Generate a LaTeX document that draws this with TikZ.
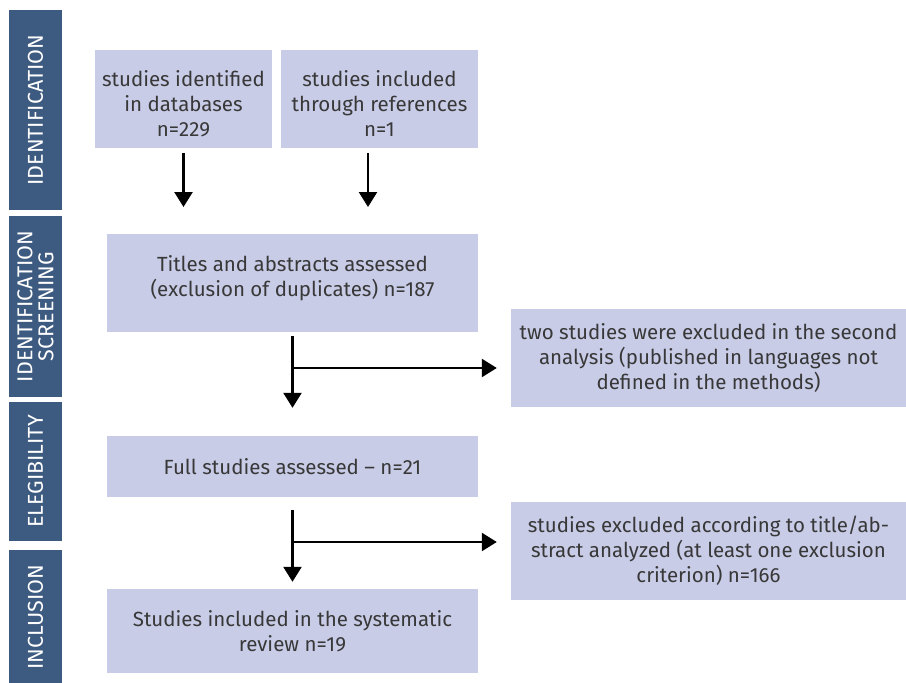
\documentclass[tikz,border=0pt]{standalone}
\usepackage{fontspec}
\setmainfont{Fira Sans}
\usepackage{tikz}
\usetikzlibrary{arrows.meta}
\usetikzlibrary{calc}

\definecolor{stagecol}{HTML}{3D5A80}
\definecolor{boxcol}{HTML}{C8CCE7}
\definecolor{txtcol}{HTML}{383838}

\tikzset{
	stagebar/.style={fill=stagecol, text=white, rotate=90, inner sep=0pt, minimum height=53pt, align=center, font=\fontsize{21.5}{21}\selectfont},
	stepbox/.style={fill=boxcol, text=txtcol, inner sep=0pt, align=center, font=\fontsize{20.5}{25}\selectfont},
	flow/.style={line width=2.4pt, -{Triangle[width=18pt,length=15pt]}}
}

\begin{document}
\begin{tikzpicture}[x=1pt, y=-1pt]
		\useasboundingbox (0,0) rectangle (906,683);
		% stages on the left
		\node (bar1) at (35.5,110)   [stagebar, minimum width=200pt] {IDENTIFICATION};
		\node (bar2) at (35.5,306.5) [stagebar, minimum width=181pt] {IDENTIFICATION\\SCREENING};
		\node (bar3) at (35.5,471.5) [stagebar, minimum width=139pt] {ELEGIBILITY};
		\node (bar4) at (35.5,617)   [stagebar, minimum width=134pt] {INCLUSION};
		% boxes
		\node (db)   at (183.5,99)  [stepbox, minimum width=177pt, minimum height=98pt, text height=75pt, text depth=0pt] {studies identified\\in databases\\n=229};
		\node (refs) at (379.5,99)  [stepbox, minimum width=197pt, minimum height=98pt, text height=75pt, text depth=0pt] {studies included\\through references\\n=1};
		\node (titles) at (292.5,283) [stepbox, minimum width=371pt, minimum height=98pt, text depth=14pt] {Titles and abstracts assessed\\(exclusion of duplicates) n=187};
		\node (lang) at (708.5,358) [stepbox, minimum width=395pt, minimum height=98pt] {two studies were excluded in the second\\analysis (published in languages not\\defined in the methods)};
		\node (full) at (292.5,466.5) [stepbox, minimum width=371pt, minimum height=61pt] {Full studies assessed -- n=21};
		\node (excl) at (708.5,551) [stepbox, minimum width=395pt, minimum height=98pt] {studies excluded according to title/ab-\\stract analyzed (at least one exclusion\\criterion) n=166};
		\node (incl) at (292.5,631) [stepbox, minimum width=371pt, minimum height=84pt] {Studies included in the systematic\\review n=19};
		% arrows
		\coordinate (tipdb) at (183.5,207);
		\coordinate (tiprefs) at (368,207);
		\coordinate (forkA) at (292.5,368);
		\coordinate (forkB) at (292.5,542);
		\draw[flow, shorten <=5pt] (db.south) -- (tipdb);
		\draw[flow, shorten <=5pt] (refs.south -| tiprefs) -- (tiprefs);
		\draw[flow, shorten <=4pt, shorten >=28pt] (titles.south) -- (full.north);
		\draw[flow, shorten >=14pt] (forkA) -- (forkA -| lang.west);
		\draw[flow, shorten <=13pt, shorten >=7pt] (full.south) -- (incl.north);
		\draw[flow, shorten >=14pt] (forkB) -- (forkB -| excl.west);
	\end{tikzpicture}
\end{document}
